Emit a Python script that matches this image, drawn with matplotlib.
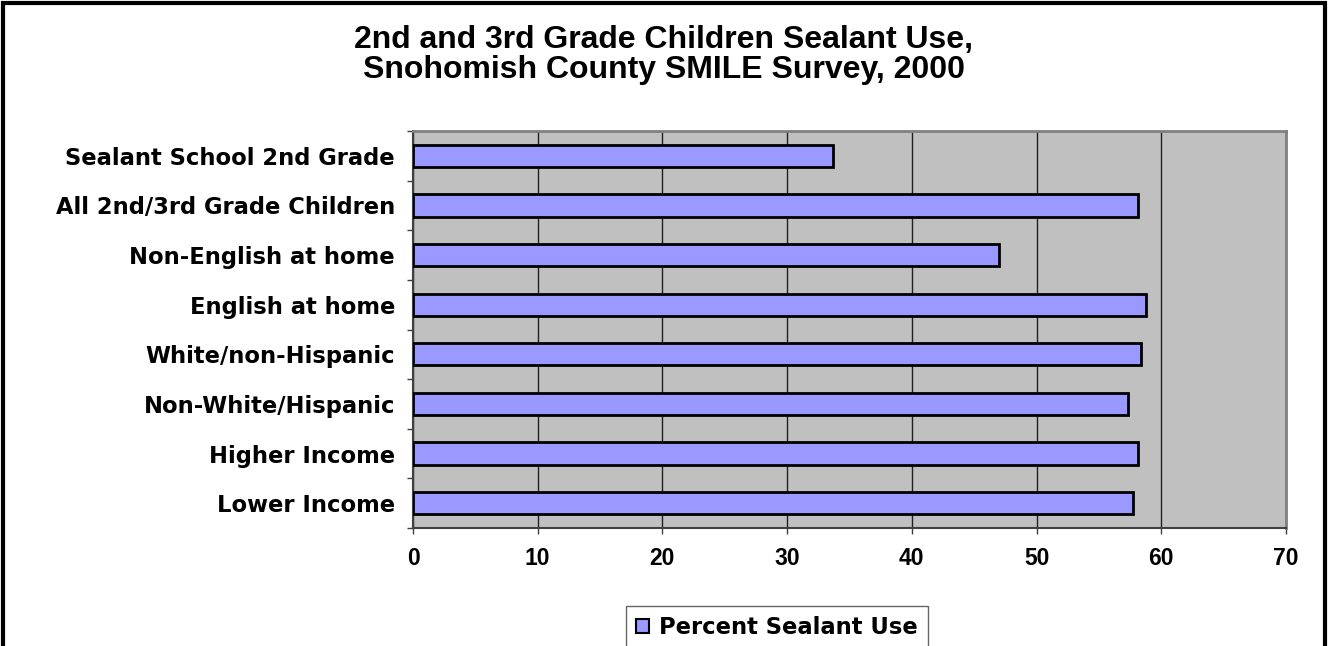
#!/usr/bin/env python3
"""Sealant use among 2nd/3rd graders, Snohomish County SMILE survey 2000."""
import matplotlib
matplotlib.use("Agg")
import matplotlib.pyplot as plt
import matplotlib.patches as mpatches
from matplotlib.ticker import FixedLocator

# ---------------------------------------------------------------------------
# Data (top to bottom as shown)
# ---------------------------------------------------------------------------
categories = [
    "Sealant School 2nd Grade",
    "All 2nd/3rd Grade Children",
    "Non-English at home",
    "English at home",
    "White/non-Hispanic",
    "Non-White/Hispanic",
    "Higher Income",
    "Lower Income",
]
sealant_pct = [33.7, 58.1, 47.0, 58.8, 58.4, 57.3, 58.1, 57.7]
x_ticks = [0, 10, 20, 30, 40, 50, 60, 70]
series_name = "Percent Sealant Use"
title = "2nd and 3rd Grade Children Sealant Use,\nSnohomish County SMILE Survey, 2000"

plt.rcParams["font.family"] = ["Liberation Sans", "DejaVu Sans"]
# the category labels / legend in the original are widely tracked; the wider
# DejaVu face gets closer to that width than Arial-like Liberation
WIDE = ["DejaVu Sans"]

W, H = 1328, 646
fig = plt.figure(figsize=(W / 100, H / 100), dpi=100)
fig.patch.set_facecolor("white")

# plot area in pixel terms: left 413, right 1286, top 131, bottom 528
ax = fig.add_axes([413 / W, 1 - 528 / H, (1286 - 413) / W, (528 - 131) / H])
ax.set_facecolor("#C0C0C0")

ypos = list(range(len(categories)))
ax.barh(ypos, sealant_pct, height=0.45, color="#9999FF",
        edgecolor="black", linewidth=2, zorder=3, label=series_name)

ax.set_xlim(0, 70)
ax.set_ylim(len(categories) - 0.5, -0.5)
ax.set_xticks(x_ticks)
ax.set_xticklabels([str(t) for t in x_ticks], fontsize=16.5, fontweight="bold")
ax.set_yticks(ypos)
ax.set_yticklabels(categories, fontsize=16.3, fontweight="bold", family=WIDE)
ax.yaxis.set_minor_locator(FixedLocator([i - 0.5 for i in range(len(categories) + 1)]))

ax.tick_params(axis="y", which="major", length=0, pad=13)
ax.tick_params(axis="y", which="minor", length=4, width=1, color="#404040", direction="out")
ax.tick_params(axis="x", which="major", length=4, width=1, color="#404040", direction="out", pad=10)

ax.grid(axis="x", color="#202020", linewidth=1, zorder=1)
ax.set_axisbelow(True)

for side in ("top", "right"):
    ax.spines[side].set_color("#808080")
    ax.spines[side].set_linewidth(2)
for side in ("left", "bottom"):
    ax.spines[side].set_color("#404040")
    ax.spines[side].set_linewidth(1.5)

fig.text(0.5, 1 - 55 / H, title, ha="center", va="center",
         fontsize=23, fontweight="bold", linespacing=1.0)

leg = fig.legend(loc="upper left", bbox_to_anchor=(626 / W, 1 - 606 / H),
                 prop={"weight": "bold", "size": 16.3, "family": WIDE},
                 frameon=True, fancybox=False, handlelength=0.55, handleheight=0.55,
                 handletextpad=0.45, borderpad=0.45, borderaxespad=0)
leg.get_frame().set_edgecolor("#404040")
leg.get_frame().set_linewidth(1)
for h in leg.legend_handles:
    h.set_linewidth(1.5)

# outer chart border (bottom edge runs off the image)
fig.patches.append(mpatches.Rectangle(
    (3 / W, -0.05), (W - 6) / W, 1.05 - 3 / H,
    transform=fig.transFigure, fill=False, edgecolor="black", linewidth=3))

fig.savefig("out.png", dpi=100)
